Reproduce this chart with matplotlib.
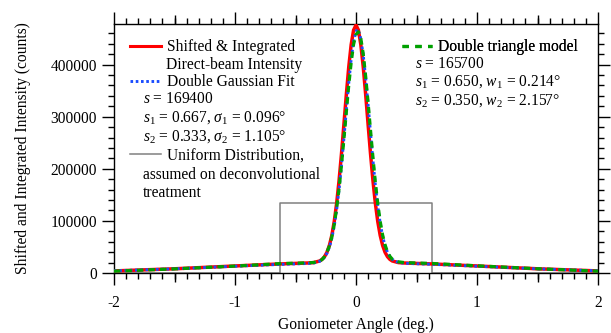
import matplotlib
matplotlib.use("Agg")
import matplotlib.pyplot as plt
from matplotlib.ticker import MultipleLocator
from matplotlib.lines import Line2D

plt.rcParams['font.family'] = ['Liberation Serif', 'DejaVu Serif']
plt.rcParams['mathtext.fontset'] = 'custom'
plt.rcParams['mathtext.rm'] = 'Liberation Serif'
plt.rcParams['mathtext.it'] = 'Liberation Serif:italic'
plt.rcParams['axes.unicode_minus'] = False

FS = 11.2

# ---- data ----
meas_x = [-2.0, -1.5, -1.0, -0.63, -0.4, -0.35, -0.3, -0.28, -0.26, -0.24, -0.22, -0.2,
          -0.18, -0.16, -0.14, -0.12, -0.1, -0.08, -0.06, -0.04, -0.02, 0.0, 0.02, 0.04,
          0.06, 0.08, 0.1, 0.12, 0.14, 0.16, 0.18, 0.2, 0.22, 0.24, 0.26, 0.28, 0.3,
          0.35, 0.4, 0.63, 1.0, 1.5, 2.0]
meas_y = [4000, 8100, 13500, 17400, 19200, 20000, 23100, 26200, 31400, 39800, 52900, 72100,
          98600, 133700, 177500, 228900, 285100, 342350, 395200, 438200, 466200, 476000,
          466200, 438200, 395200, 342350, 285100, 228900, 177500, 133700, 98600, 72100,
          52900, 39800, 31400, 26200, 23100, 20000, 19200, 17400, 13500, 8100, 4000]

gauss_x = [-2.0, -1.5, -1.0, -0.63, -0.4, -0.35, -0.3, -0.28, -0.26, -0.24, -0.22, -0.2,
           -0.18, -0.16, -0.14, -0.12, -0.1, -0.08, -0.06, -0.04, -0.02, 0.0, 0.01, 0.02,
           0.04, 0.06, 0.08, 0.1, 0.12, 0.14, 0.16, 0.18, 0.2, 0.22, 0.24, 0.26, 0.28,
           0.3, 0.35, 0.4, 0.63, 1.0, 1.5, 2.0]
gauss_y = [4200, 8000, 13000, 16500, 18300, 19000, 22500, 25500, 30300, 37900, 49500, 66400,
           90000, 121100, 160100, 206400, 258200, 312300, 364500, 410200, 444300, 463500,
           467900, 465300, 449500, 418000, 374300, 323000, 268900, 216400, 168800, 128300,
           95600, 70600, 52300, 39700, 31300, 26000, 20300, 18600, 16700, 13000, 8000, 4200]

tri_x = [-2.0, -1.5, -1.0, -0.63, -0.4, -0.35, -0.3, -0.28, -0.26, -0.24, -0.22, -0.2,
         -0.18, -0.16, -0.14, -0.12, -0.1, -0.08, -0.06, -0.04, -0.02, 0.0, 0.02, 0.04,
         0.06, 0.08, 0.1, 0.12, 0.14, 0.16, 0.18, 0.2, 0.22, 0.24, 0.26, 0.28, 0.3,
         0.35, 0.4, 0.63, 1.0, 1.5, 2.0]
tri_y = [3500, 7900, 13300, 18000, 19500, 20200, 22800, 26000, 31500, 40000, 52000, 69000,
         93000, 124000, 162000, 207000, 257000, 309000, 360000, 404000, 439000, 458000,
         463000, 450000, 420000, 377000, 327000, 274000, 222000, 174000, 133000, 99000,
         73000, 54000, 41000, 32000, 26500, 21500, 20000, 18300, 13800, 8200, 3500]

unif_x = [-2.0, -0.628, -0.628, 0.628, 0.628, 2.0]
unif_y = [0, 0, 134500, 134500, 0, 0]

x_ticks = [-2, -1, 0, 1, 2]
x_ticklabels = ['-2', '-1', '0', '1', '2']
x_mid_ticks = [-1.5, -0.5, 0.5, 1.5]
y_ticks = [0, 100000, 200000, 300000, 400000]
y_ticklabels = ['0', '100000', '200000', '300000', '400000']

RED = '#ff0000'
BLUE = '#1a4cff'
GREEN = '#00a000'
GREY = '#808080'

fig = plt.figure(figsize=(6.11, 3.33), dpi=100)
ax = fig.add_axes([114/611, 60/333, 484/611, 249/333])

ax.plot(unif_x, unif_y, color=GREY, lw=1.1, zorder=2)
l_red, = ax.plot(meas_x, meas_y, color=RED, lw=2.5, zorder=3, solid_joinstyle='round')
l_blue, = ax.plot(gauss_x, gauss_y, color=BLUE, lw=2.1, zorder=4,
                  linestyle=(0, (0.9, 0.9)), dash_capstyle='butt')
l_green, = ax.plot(tri_x, tri_y, color=GREEN, lw=2.3, zorder=5,
                   linestyle=(0, (2.0, 1.6)), dash_capstyle='butt')

ax.set_xlim(-2, 2)
ax.set_ylim(0, 478000)
ax.set_xticks(x_ticks)
ax.set_xticklabels(x_ticklabels, fontsize=FS)
ax.set_yticks(y_ticks)
ax.set_yticklabels(y_ticklabels, fontsize=FS)
ax.xaxis.set_minor_locator(MultipleLocator(0.1))
ax.yaxis.set_minor_locator(MultipleLocator(20000))

ax.tick_params(axis='both', which='both', direction='out', top=True, right=True,
               width=1.0, labelsize=FS, colors='black')
ax.tick_params(axis='both', which='major', length=8.5)
ax.tick_params(axis='both', which='minor', length=4.6)
ax.tick_params(axis='x', which='major', pad=7.6)
ax.tick_params(axis='y', which='major', pad=3.6)
for sp in ax.spines.values():
    sp.set_linewidth(1.0)

# medium-length ticks at the half-degree positions (bottom and top)
for loc in ('bottom', 'top'):
    sec = ax.secondary_xaxis(loc)
    sec.set_xticks(x_mid_ticks)
    sec.tick_params(axis='x', which='major', direction='out', length=6.8, width=1.0,
                    labelbottom=False, labeltop=False)
    sec.spines[loc].set_visible(False)

ax.set_xlabel('Goniometer Angle (deg.)', fontsize=FS)
ax.set_ylabel('Shifted and Integrated Intensity (counts)', fontsize=FS)
ax.xaxis.set_label_coords(0.5, -0.175)
ax.yaxis.set_label_coords(-0.172, 0.5)

def add_leg(handle, label, x, y):
    leg = ax.legend([handle], [label], loc='center left', bbox_to_anchor=(x, y),
                    frameon=False, borderpad=0, borderaxespad=0, handlelength=1.96,
                    handletextpad=0.4, fontsize=FS)
    ax.add_artist(leg)
    return leg

h_red = Line2D([], [], color=RED, lw=2.2)
h_blue = Line2D([], [], color=BLUE, lw=2.1, linestyle=(0, (0.9, 0.9)), dash_capstyle='butt')
h_grey = Line2D([], [], color=GREY, lw=1.1)
h_green = Line2D([], [], color=GREEN, lw=2.3, linestyle=(0, (2.0, 2.0)), dash_capstyle='butt')

add_leg(h_red, 'Shifted & Integrated', 0.0331, 0.9068)
add_leg(h_blue, 'Double Gaussian Fit', 0.0331, 0.7663)
add_leg(h_grey, 'Uniform Distribution,', 0.0331, 0.4707)
add_leg(h_green, 'Double triangle model', 0.5944, 0.9068)

tk = dict(transform=ax.transAxes, ha='left', va='baseline', fontsize=FS)
ax.text(0.1074, 0.8205, 'Direct-beam Intensity', **tk)
ax.text(0.0599, 0.6815, r'$s$ = 169400', **tk)
ax.text(0.0599, 0.6076, r'$s_1$ = 0.667, $\sigma_1$ = 0.096°', **tk)
ax.text(0.0599, 0.5313, r'$s_2$ = 0.333, $\sigma_2$ = 1.105°', **tk)
ax.text(0.0599, 0.3775, 'assumed on deconvolutional', **tk)
ax.text(0.0599, 0.3064, 'treatment', **tk)
ax.text(0.6219, 0.8221, r'$s$ = 165700', **tk)
ax.text(0.6219, 0.7510, r'$s_1$ = 0.650, $w_1$ = 0.214°', **tk)
ax.text(0.6219, 0.6775, r'$s_2$ = 0.350, $w_2$ = 2.157°', **tk)

fig.savefig('out.png', dpi=100)
